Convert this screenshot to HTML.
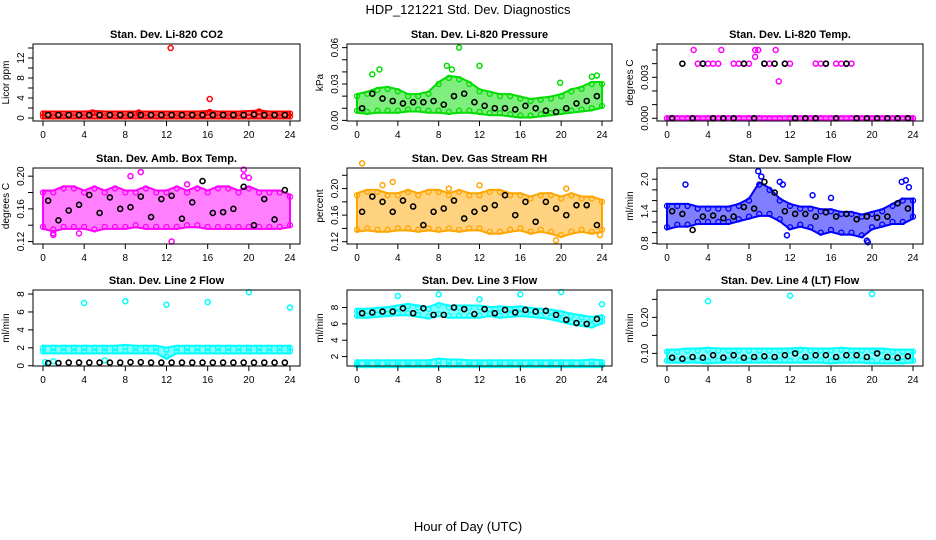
<!DOCTYPE html>
<html><head><meta charset="utf-8"><style>
body{margin:0;background:#fff;}
svg{display:block;font-family:"Liberation Sans",sans-serif;}
</style></head><body>
<svg id="chart" width="936" height="540" viewBox="0 0 936 540">
<text x="468" y="14" text-anchor="middle" font-size="13">HDP_121221  Std. Dev. Diagnostics</text>
<text x="468" y="531" text-anchor="middle" font-size="13">Hour of Day (UTC)</text>
</svg>
<script>
const hours = [0,1,2,3,4,5,6,7,8,9,10,11,12,13,14,15,16,17,18,19,20,21,22,23,24];
const p1U = [0.9,0.9,0.9,0.9,0.9,1.0,0.9,0.9,0.9,0.9,0.9,0.9,0.9,0.9,0.9,0.9,1.0,0.9,0.9,0.9,1.0,1.1,0.9,0.9,0.9];
const p1L = [0.3,0.3,0.3,0.3,0.3,0.3,0.3,0.3,0.3,0.3,0.3,0.3,0.3,0.3,0.3,0.3,0.3,0.3,0.3,0.3,0.3,0.3,0.3,0.3,0.3];
const p1K = [0.6,0.6,0.6,0.6,0.6,0.6,0.6,0.6,0.6,0.6,0.6,0.6,0.6,0.6,0.6,0.6,0.6,0.6,0.6,0.6,0.7,0.6,0.6,0.6];
const p1OX = [12.4,16.2,16.2,21.0,4.8,9.3];
const p1OY = [14.0,3.8,1.2,1.3,1.1,1.1];
const p2U = [0.020,0.022,0.025,0.026,0.024,0.020,0.020,0.022,0.030,0.035,0.034,0.030,0.024,0.022,0.020,0.020,0.018,0.016,0.017,0.018,0.020,0.024,0.026,0.030,0.030];
const p2L = [0.008,0.007,0.008,0.008,0.008,0.009,0.009,0.008,0.008,0.007,0.008,0.008,0.007,0.006,0.006,0.005,0.004,0.004,0.005,0.006,0.007,0.008,0.009,0.010,0.012];
const p2K = [0.010,0.022,0.018,0.016,0.014,0.015,0.015,0.016,0.013,0.020,0.022,0.015,0.012,0.010,0.010,0.009,0.012,0.010,0.008,0.007,0.010,0.014,0.016,0.020];
const p2OX = [1.5,2.2,10.0,8.8,9.3,12.0,19.9,23.0,23.5];
const p2OY = [0.038,0.042,0.060,0.045,0.042,0.045,0.031,0.036,0.037];
const p3U = [0,0,0,0,0,0,0,0,0,0,0,0,0,0,0,0,0,0,0,0,0,0,0,0,0];
const p3L = [0,0,0,0,0,0,0,0,0,0,0,0,0,0,0,0,0,0,0,0,0,0,0,0,0];
const p3K = [0,0.004,0,0.004,0,0,0,0.004,0,0.004,0.004,0.004,0,0,0,0.004,0,0.004,0,0,0,0,0,0];
const p3OX = [2.6,5.3,8.6,8.9,10.6,8.6,10.9,3.0,3.5,4.0,4.5,5.0,6.5,7.0,7.5,8.0,9.5,10.0,11.5,12.0,14.5,15.0,15.5,16.5,17.0,17.5,18.0];
const p3OY = [0.005,0.005,0.005,0.005,0.005,0.0045,0.0027,0.004,0.004,0.004,0.004,0.004,0.004,0.004,0.004,0.004,0.004,0.004,0.004,0.004,0.004,0.004,0.004,0.004,0.004,0.004,0.004];
const p4U = [0.180,0.180,0.185,0.185,0.180,0.185,0.180,0.185,0.180,0.180,0.185,0.180,0.180,0.185,0.180,0.185,0.180,0.185,0.185,0.180,0.185,0.180,0.180,0.180,0.175];
const p4L = [0.138,0.135,0.138,0.138,0.138,0.135,0.138,0.138,0.138,0.140,0.138,0.138,0.138,0.138,0.140,0.140,0.138,0.138,0.138,0.138,0.138,0.138,0.138,0.138,0.140];
const p4K = [0.170,0.146,0.158,0.165,0.177,0.155,0.174,0.160,0.162,0.175,0.150,0.172,0.176,0.148,0.168,0.194,0.155,0.156,0.160,0.187,0.140,0.172,0.147,0.183];
const p4OX = [1.0,1.0,3.5,8.5,9.5,12.5,14.0,19.5,19.5,20.0];
const p4OY = [0.130,0.128,0.130,0.200,0.205,0.120,0.190,0.200,0.208,0.198];
const p5U = [0.190,0.195,0.195,0.190,0.190,0.195,0.190,0.195,0.195,0.190,0.195,0.190,0.190,0.195,0.195,0.190,0.190,0.185,0.190,0.190,0.185,0.190,0.185,0.185,0.180];
const p5L = [0.138,0.140,0.138,0.138,0.140,0.140,0.138,0.140,0.138,0.140,0.138,0.140,0.140,0.135,0.135,0.138,0.140,0.135,0.138,0.135,0.130,0.135,0.138,0.135,0.138];
const p5K = [0.165,0.188,0.180,0.165,0.182,0.173,0.145,0.165,0.170,0.182,0.155,0.165,0.170,0.175,0.190,0.160,0.180,0.150,0.180,0.170,0.160,0.175,0.175,0.145];
const p5OX = [0.5,2.5,3.5,9.0,12.0,19.5,20.5,23.8];
const p5OY = [0.238,0.205,0.210,0.200,0.205,0.122,0.200,0.130];
const p6U = [1.5,1.5,1.5,1.45,1.45,1.45,1.45,1.5,1.6,1.9,1.8,1.6,1.5,1.45,1.45,1.4,1.4,1.35,1.35,1.3,1.35,1.4,1.5,1.6,1.6];
const p6L = [1.1,1.15,1.15,1.2,1.2,1.2,1.2,1.25,1.3,1.35,1.35,1.25,1.1,1.15,1.1,1.0,1.05,1.0,1.0,0.95,1.1,1.15,1.2,1.2,1.3];
const p6K = [1.40,1.35,1.05,1.30,1.32,1.27,1.30,1.48,1.45,1.95,1.75,1.40,1.35,1.35,1.30,1.38,1.30,1.35,1.25,1.30,1.28,1.30,1.55,1.45];
const p6OX = [1.8,8.9,9.2,11.0,11.3,11.7,14.2,16.0,19.5,19.6,22.9,23.3,23.6];
const p6OY = [1.90,2.15,2.05,1.95,1.90,0.95,1.70,1.65,0.85,0.82,1.95,1.98,1.85];
const p7U = [2.0,2.0,2.0,2.0,2.0,2.0,2.0,2.0,2.1,2.0,2.0,2.0,1.8,2.0,2.0,2.0,2.0,2.0,2.0,2.0,2.0,2.0,2.0,2.0,2.0];
const p7L = [1.6,1.6,1.6,1.6,1.6,1.6,1.6,1.6,1.6,1.6,1.6,1.6,1.0,1.6,1.6,1.6,1.6,1.6,1.6,1.6,1.6,1.6,1.6,1.6,1.6];
const p7K = [0.3,0.3,0.35,0.35,0.35,0.35,0.35,0.35,0.4,0.4,0.35,0.35,0.35,0.35,0.35,0.35,0.35,0.35,0.35,0.35,0.35,0.35,0.35,0.35];
const p7OX = [4.0,8.0,12.0,16.0,20.0,24.0,0.2,1.0,6.0];
const p7OY = [7.0,7.2,6.8,7.1,8.2,6.5,0.4,0.5,0.6];
const p8U = [7.6,7.6,7.7,7.8,8.0,8.2,8.0,7.8,8.3,8.0,8.0,8.0,8.0,7.8,7.9,7.8,7.9,7.7,7.6,7.5,7.3,7.0,6.8,6.6,6.8];
const p8L = [7.0,7.0,7.1,7.2,7.3,7.3,7.1,6.9,7.2,7.0,7.0,7.0,7.0,7.2,7.0,7.1,7.2,7.1,7.0,6.8,6.5,6.2,6.0,5.8,6.3];
const p8K = [7.3,7.4,7.5,7.5,7.9,7.3,7.9,7.1,7.1,8.0,7.8,7.2,7.8,7.3,7.7,7.4,7.7,7.5,7.6,7.1,6.5,6.1,6.0,6.6];
const p8OX = [4.0,8.0,12.0,16.0,20.0,24.0];
const p8OY = [9.4,9.6,9.0,9.6,9.9,8.4];
const p8U2 = [1.3,1.3,1.3,1.3,1.3,1.3,1.3,1.3,1.5,1.4,1.4,1.3,1.3,1.3,1.3,1.3,1.3,1.3,1.3,1.3,1.3,1.3,1.3,1.4,1.3];
const p8L2 = [0.95,0.95,0.95,0.95,0.95,0.95,0.95,0.95,0.95,0.95,0.95,0.95,0.95,0.95,0.95,0.95,0.95,0.95,0.95,0.95,0.95,0.95,0.95,0.95,0.95];
const p9U = [0.105,0.105,0.108,0.108,0.110,0.108,0.108,0.108,0.108,0.108,0.108,0.108,0.108,0.110,0.108,0.108,0.108,0.110,0.108,0.108,0.108,0.108,0.105,0.105,0.105];
const p9L = [0.080,0.080,0.080,0.080,0.078,0.080,0.080,0.080,0.080,0.080,0.080,0.080,0.080,0.080,0.080,0.080,0.078,0.080,0.080,0.080,0.078,0.078,0.078,0.078,0.080];
const p9K = [0.088,0.085,0.090,0.088,0.095,0.088,0.095,0.088,0.090,0.092,0.090,0.095,0.100,0.090,0.095,0.095,0.090,0.095,0.095,0.090,0.100,0.090,0.088,0.092];
const p9OX = [4.0,12.0,20.0];
const p9OY = [0.245,0.260,0.265];
const xTicks = [0,4,8,12,16,20,24];

const svg = document.getElementById('chart');
const NS = 'http://www.w3.org/2000/svg';
function mk(tag, attrs){const e=document.createElementNS(NS,tag);for(const k in attrs)e.setAttribute(k,attrs[k]);svg.appendChild(e);return e;}

const cols=[[33,300],[347,612],[657,923]];
const rows=[[44,121],[168,244],[290,366]];
const panels=[
 {t:'Stan. Dev. Li-820 CO2',yl:'Licor ppm',ylim:[-0.6,14.8],ticks:[0,2,4,6,8,10,12,14],labs:[0,4,8,12],fmt:0,c:'#ff0000',U:p1U,L:p1L,K:p1K,OX:p1OX,OY:p1OY},
 {t:'Stan. Dev. Li-820 Pressure',yl:'kPa',ylim:[-0.0005,0.063],ticks:[0,0.01,0.02,0.03,0.04,0.05,0.06],labs:[0,0.03,0.06],fmt:2,c:'#00dd00',U:p2U,L:p2L,K:p2K,OX:p2OX,OY:p2OY},
 {t:'Stan. Dev. Li-820 Temp.',yl:'degrees C',ylim:[-0.0002,0.00544],ticks:[0,0.001,0.002,0.003,0.004,0.005],labs:[0,0.003],fmt:3,c:'#ff00ff',U:p3U,L:p3L,K:p3K,OX:p3OX,OY:p3OY},
 {t:'Stan. Dev. Amb. Box Temp.',yl:'degrees C',ylim:[0.117,0.210],ticks:[0.12,0.14,0.16,0.18,0.20],labs:[0.12,0.16,0.20],fmt:2,c:'#ff00ff',U:p4U,L:p4L,K:p4K,OX:p4OX,OY:p4OY},
 {t:'Stan. Dev. Gas Stream RH',yl:'percent',ylim:[0.1165,0.231],ticks:[0.12,0.14,0.16,0.18,0.20,0.22],labs:[0.12,0.16,0.20],fmt:2,c:'#ffa500',U:p5U,L:p5L,K:p5K,OX:p5OX,OY:p5OY},
 {t:'Stan. Dev. Sample Flow',yl:'ml/min',ylim:[0.787,2.21],ticks:[0.8,1.0,1.2,1.4,1.6,1.8,2.0],labs:[0.8,1.4,2.0],fmt:1,c:'#0000ff',U:p6U,L:p6L,K:p6K,OX:p6OX,OY:p6OY},
 {t:'Stan. Dev. Line 2 Flow',yl:'ml/min',ylim:[-0.03,8.45],ticks:[0,2,4,6,8],labs:[0,2,4,6,8],fmt:0,c:'#00ffff',U:p7U,L:p7L,K:p7K,OX:p7OX,OY:p7OY},
 {t:'Stan. Dev. Line 3 Flow',yl:'ml/min',ylim:[0.85,10.14],ticks:[2,4,6,8],labs:[2,4,6,8],fmt:0,c:'#00ffff',U:p8U,L:p8L,K:p8K,OX:p8OX,OY:p8OY,U2:p8U2,L2:p8L2},
 {t:'Stan. Dev. Line 4 (LT) Flow',yl:'ml/min',ylim:[0.065,0.276],ticks:[0.10,0.15,0.20,0.25],labs:[0.10,0.20],fmt:2,c:'#00ffff',U:p9U,L:p9L,K:p9K,OX:p9OX,OY:p9OY}
];

panels.forEach((p,i)=>{
  const [l,r]=cols[i%3],[t,b]=rows[Math.floor(i/3)];
  const x=h=>l+10+(h/24)*(r-l-20);
  const y=v=>b-(v-p.ylim[0])/(p.ylim[1]-p.ylim[0])*(b-t);
  const slug='panel-'+(i+1);
  const tt=mk('text',{x:(l+r)/2,y:t-6,'text-anchor':'middle','font-size':11,'font-weight':'bold'});tt.textContent=p.t;
  
  
  const yt=mk('text',{transform:`translate(${l-24},${(t+b)/2}) rotate(-90)`,'text-anchor':'middle','font-size':10});yt.textContent=p.yl;
  
  
  const bands=[[p.U,p.L]];if(p.U2)bands.push([p.U2,p.L2]);
  bands.forEach(([U,L])=>{
    let pts=hours.map((h,j)=>`${x(h)},${y(U[j])-2}`).concat(hours.slice().reverse().map((h,j)=>`${x(h)},${y(L[24-j])+2}`));
    const poly=mk('polygon',{points:pts.join(' '),fill:p.c,'fill-opacity':0.5,stroke:p.c,'stroke-width':2});
    
    
    hours.forEach((h,j)=>{[U[j],L[j]].forEach(v=>{
      const c=mk('circle',{cx:x(h),cy:y(v),r:2.5,fill:'none',stroke:p.c,'stroke-width':1.3});
      
      
    });});
  });
  p.OX.forEach((h,j)=>{
    const c=mk('circle',{cx:x(h),cy:y(p.OY[j]),r:2.5,fill:'none',stroke:p.c,'stroke-width':1.5});
    
    
  });
  p.K.forEach((v,j)=>{
    const c=mk('circle',{cx:x(j+0.5),cy:y(v),r:2.5,fill:'none',stroke:'#000','stroke-width':1.6});
    
    
  });
  const box=mk('rect',{x:l,y:t,width:r-l,height:b-t,fill:'none',stroke:'#000','stroke-width':1});
  
  
  xTicks.forEach(h=>{
    mk('line',{x1:x(h),x2:x(h),y1:b,y2:b+5,stroke:'#000'});
    const tx=mk('text',{x:x(h),y:b+17,'text-anchor':'middle','font-size':10});tx.textContent=h;
    
    
  });
  p.ticks.forEach(v=>mk('line',{x1:l-5,x2:l,y1:y(v),y2:y(v),stroke:'#000'}));
  p.labs.forEach(v=>{
    const ty=mk('text',{transform:`translate(${l-9},${y(v)}) rotate(-90)`,'text-anchor':'middle','font-size':10});
    ty.textContent=v.toFixed(p.fmt);
    
    
  });
});
</script>
</body></html>
